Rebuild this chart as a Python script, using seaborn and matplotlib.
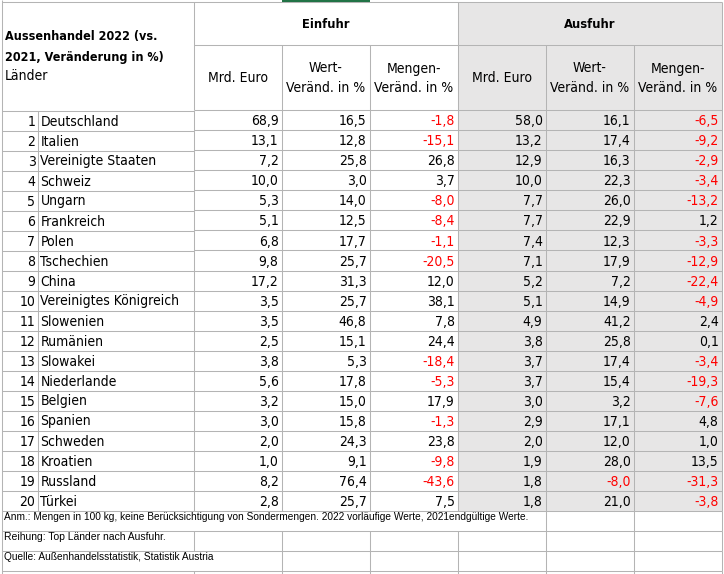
import numpy as np
import matplotlib
matplotlib.use("Agg")
import matplotlib.pyplot as plt
from matplotlib import font_manager as fm
from matplotlib.colors import ListedColormap
from matplotlib.patches import Rectangle
import seaborn as sns

# ---------------- data ----------------
ranks = list(range(1, 21))
countries = ["Deutschland", "Italien", "Vereinigte Staaten", "Schweiz", "Ungarn",
             "Frankreich", "Polen", "Tschechien", "China", "Vereinigtes Königreich",
             "Slowenien", "Rumänien", "Slowakei", "Niederlande", "Belgien",
             "Spanien", "Schweden", "Kroatien", "Russland", "Türkei"]
ein_mrd = [68.9, 13.1, 7.2, 10.0, 5.3, 5.1, 6.8, 9.8, 17.2, 3.5,
           3.5, 2.5, 3.8, 5.6, 3.2, 3.0, 2.0, 1.0, 8.2, 2.8]
ein_wert = [16.5, 12.8, 25.8, 3.0, 14.0, 12.5, 17.7, 25.7, 31.3, 25.7,
            46.8, 15.1, 5.3, 17.8, 15.0, 15.8, 24.3, 9.1, 76.4, 25.7]
ein_menge = [-1.8, -15.1, 26.8, 3.7, -8.0, -8.4, -1.1, -20.5, 12.0, 38.1,
             7.8, 24.4, -18.4, -5.3, 17.9, -1.3, 23.8, -9.8, -43.6, 7.5]
aus_mrd = [58.0, 13.2, 12.9, 10.0, 7.7, 7.7, 7.4, 7.1, 5.2, 5.1,
           4.9, 3.8, 3.7, 3.7, 3.0, 2.9, 2.0, 1.9, 1.8, 1.8]
aus_wert = [16.1, 17.4, 16.3, 22.3, 26.0, 22.9, 12.3, 17.9, 7.2, 14.9,
            41.2, 25.8, 17.4, 15.4, 3.2, 17.1, 12.0, 28.0, -8.0, 21.0]
aus_menge = [-6.5, -9.2, -2.9, -3.4, -13.2, 1.2, -3.3, -12.9, -22.4, -4.9,
             2.4, 0.1, -3.4, -19.3, -7.6, 4.8, 1.0, 13.5, -31.3, -3.8]

title_lines = ["Aussenhandel 2022 (vs.", "2021, Veränderung in %)"]
laender_label = "Länder"
group_labels = ["Einfuhr", "Ausfuhr"]
sub_headers = [["Mrd. Euro"], ["Wert-", "Veränd. in %"], ["Mengen-", "Veränd. in %"]]
notes = ["Anm.: Mengen in 100 kg, keine Berücksichtigung von Sondermengen. 2022 vorläufige Werte, 2021endgültige Werte.",
         "Reihung: Top Länder nach Ausfuhr.",
         "Quelle: Außenhandelsstatistik, Statistik Austria"]

# ---------------- style ----------------
sns.set_theme(style="white")
plt.rcParams['font.family'] = ['DejaVu Sans']

GRID = "#b4b4b4"
FILL = "#e7e6e6"
RED = "#ff0000"
TXT = "#000000"

names = {f.name for f in fm.fontManager.ttflist}
has_cond = any(("DejaVuSansCondensed" in f.fname) for f in fm.fontManager.ttflist)
if has_cond:
    BODY = dict(family="DejaVu Sans", stretch="condensed", size=10)
    BOLD = dict(family="DejaVu Sans", stretch="condensed", size=9.3, weight="bold")
    TBOLD = dict(family="DejaVu Sans", stretch="condensed", size=9.0, weight="bold")
else:
    BODY = dict(family="DejaVu Sans", size=9.2)
    BOLD = dict(family="DejaVu Sans", size=8.6, weight="bold")
    TBOLD = dict(family="DejaVu Sans", size=8.2, weight="bold")
note_family = "Liberation Sans Narrow" if "Liberation Sans Narrow" in names else "Liberation Sans"

W, H = 724, 574
fig = plt.figure(figsize=(W / 100, H / 100), dpi=100)
fig.patch.set_facecolor("white")
ax = fig.add_axes([0, 0, 1, 1])
ax.set_xlim(0, W)
ax.set_ylim(H, 0)
ax.axis("off")

# geometry (pixels)
X_LEFT, X_RANK, X_DATA, X_RIGHT = 1.5, 37.5, 193.5, 721.5
col_w = (X_RIGHT - X_DATA) / 6
col_edges = [X_DATA + i * col_w for i in range(7)]
Y_TOP, Y_MID, Y_BODY = 1.5, 44.5, 110.5
row_h = 20
n = len(countries)
Y_BODY_END = Y_BODY + n * row_h
note_rows = [Y_BODY_END + i * row_h for i in range(4)]

# header fill for Ausfuhr
ax.add_patch(Rectangle((col_edges[3], Y_TOP), X_RIGHT - col_edges[3], Y_BODY - Y_TOP,
                       facecolor=FILL, edgecolor="none", zorder=0))
# Excel selection marker
ax.add_patch(Rectangle((col_edges[1], 0), col_w, 1.6, facecolor="#217346", edgecolor="none", zorder=3))

lw = 0.75
# horizontal lines
ax.hlines(Y_TOP, X_LEFT, X_RIGHT, color=GRID, lw=lw)
ax.hlines(Y_MID, X_DATA, X_RIGHT, color=GRID, lw=lw)
for k in range(n + 1):
    ax.hlines(Y_BODY + k * row_h, X_LEFT, X_DATA, color=GRID, lw=lw)
for y in note_rows[1:]:
    ax.hlines(y, X_LEFT, X_RIGHT, color=GRID, lw=lw)
# vertical lines
ax.vlines(X_LEFT, 0, H, color=GRID, lw=lw)
ax.vlines(X_RANK, Y_BODY, Y_BODY_END, color=GRID, lw=lw)
for x in [col_edges[0], col_edges[3], col_edges[6]]:
    ax.vlines(x, Y_TOP, Y_BODY, color=GRID, lw=lw)
for x in [col_edges[1], col_edges[2], col_edges[4], col_edges[5]]:
    ax.vlines(x, Y_MID, Y_BODY, color=GRID, lw=lw)
# footnote-area gridlines (hidden where text overflows)
note_ends = [540, 170, 220, H]
for r, y0 in enumerate(note_rows):
    y1 = min(y0 + row_h, H)
    for x in col_edges:
        if x > note_ends[r] or r == 3:
            ax.vlines(x, y0, y1, color=GRID, lw=lw)

# header text
ax.text(5, 40, title_lines[0], ha="left", va="baseline", color=TXT, **TBOLD)
ax.text(5, 60.5, title_lines[1], ha="left", va="baseline", color=TXT, **TBOLD)
ax.text(5, 80, laender_label, ha="left", va="baseline", color=TXT, **BODY)
for g, lab in enumerate(group_labels):
    cx = (col_edges[3 * g] + col_edges[3 * g + 3]) / 2
    ax.text(cx, 28.5, lab, ha="center", va="baseline", color=TXT, **BOLD)
    for j, lines in enumerate(sub_headers):
        cx = (col_edges[3 * g + j] + col_edges[3 * g + j + 1]) / 2
        if len(lines) == 1:
            ax.text(cx, 82.5, lines[0], ha="center", va="baseline", color=TXT, **BODY)
        else:
            ax.text(cx, 72.5, lines[0], ha="center", va="baseline", color=TXT, **BODY)
            ax.text(cx, 92.5, lines[1], ha="center", va="baseline", color=TXT, **BODY)

# rank + country
for i, (rk, c) in enumerate(zip(ranks, countries)):
    yb = Y_BODY + i * row_h + 15
    ax.text(X_RANK - 2, yb, str(rk), ha="right", va="baseline", color=TXT, **BODY)
    ax.text(X_RANK + 3, yb, c, ha="left", va="baseline", color=TXT, **BODY)

# footnotes, fitted to their measured width
note_targets = [530, 163, 212]
note_base = [520, 540, 560]
renderer = fig.canvas.get_renderer()
for t, tw, yb in zip(notes, note_targets, note_base):
    txt = ax.text(4.5, yb, t, ha="left", va="baseline", color=TXT,
                  family=[note_family, "DejaVu Sans"], size=7.8)
    w = txt.get_window_extent(renderer).width
    txt.set_fontsize(7.8 * tw / w)

# ---------------- numeric body via seaborn heatmap ----------------
values = np.array([ein_mrd, ein_wert, ein_menge, aus_mrd, aus_wert, aus_menge]).T
fill_group = np.tile(np.array([0, 0, 0, 1, 1, 1]), (n, 1))
hax = fig.add_axes([X_DATA / W, 1 - Y_BODY_END / H, (X_RIGHT - X_DATA) / W, (Y_BODY_END - Y_BODY) / H])
sns.heatmap(fill_group, ax=hax, cmap=ListedColormap(["white", FILL]), vmin=0, vmax=1,
            cbar=False, linewidths=0, xticklabels=False, yticklabels=False)
for sp in hax.spines.values():
    sp.set_visible(False)
hax.hlines(np.arange(n + 1), 0, 6, color=GRID, lw=lw, clip_on=False)
hax.vlines(np.arange(7), 0, n, color=GRID, lw=lw, clip_on=False)
pad = 3 / col_w
for i in range(n):
    for j in range(6):
        v = values[i, j]
        s = f"{v:.1f}".replace(".", ",")
        hax.text(j + 1 - pad, i + 0.75, s, ha="right", va="baseline",
                 color=RED if v < 0 else TXT, **BODY)

fig.savefig("out.png", dpi=100, facecolor="white")
